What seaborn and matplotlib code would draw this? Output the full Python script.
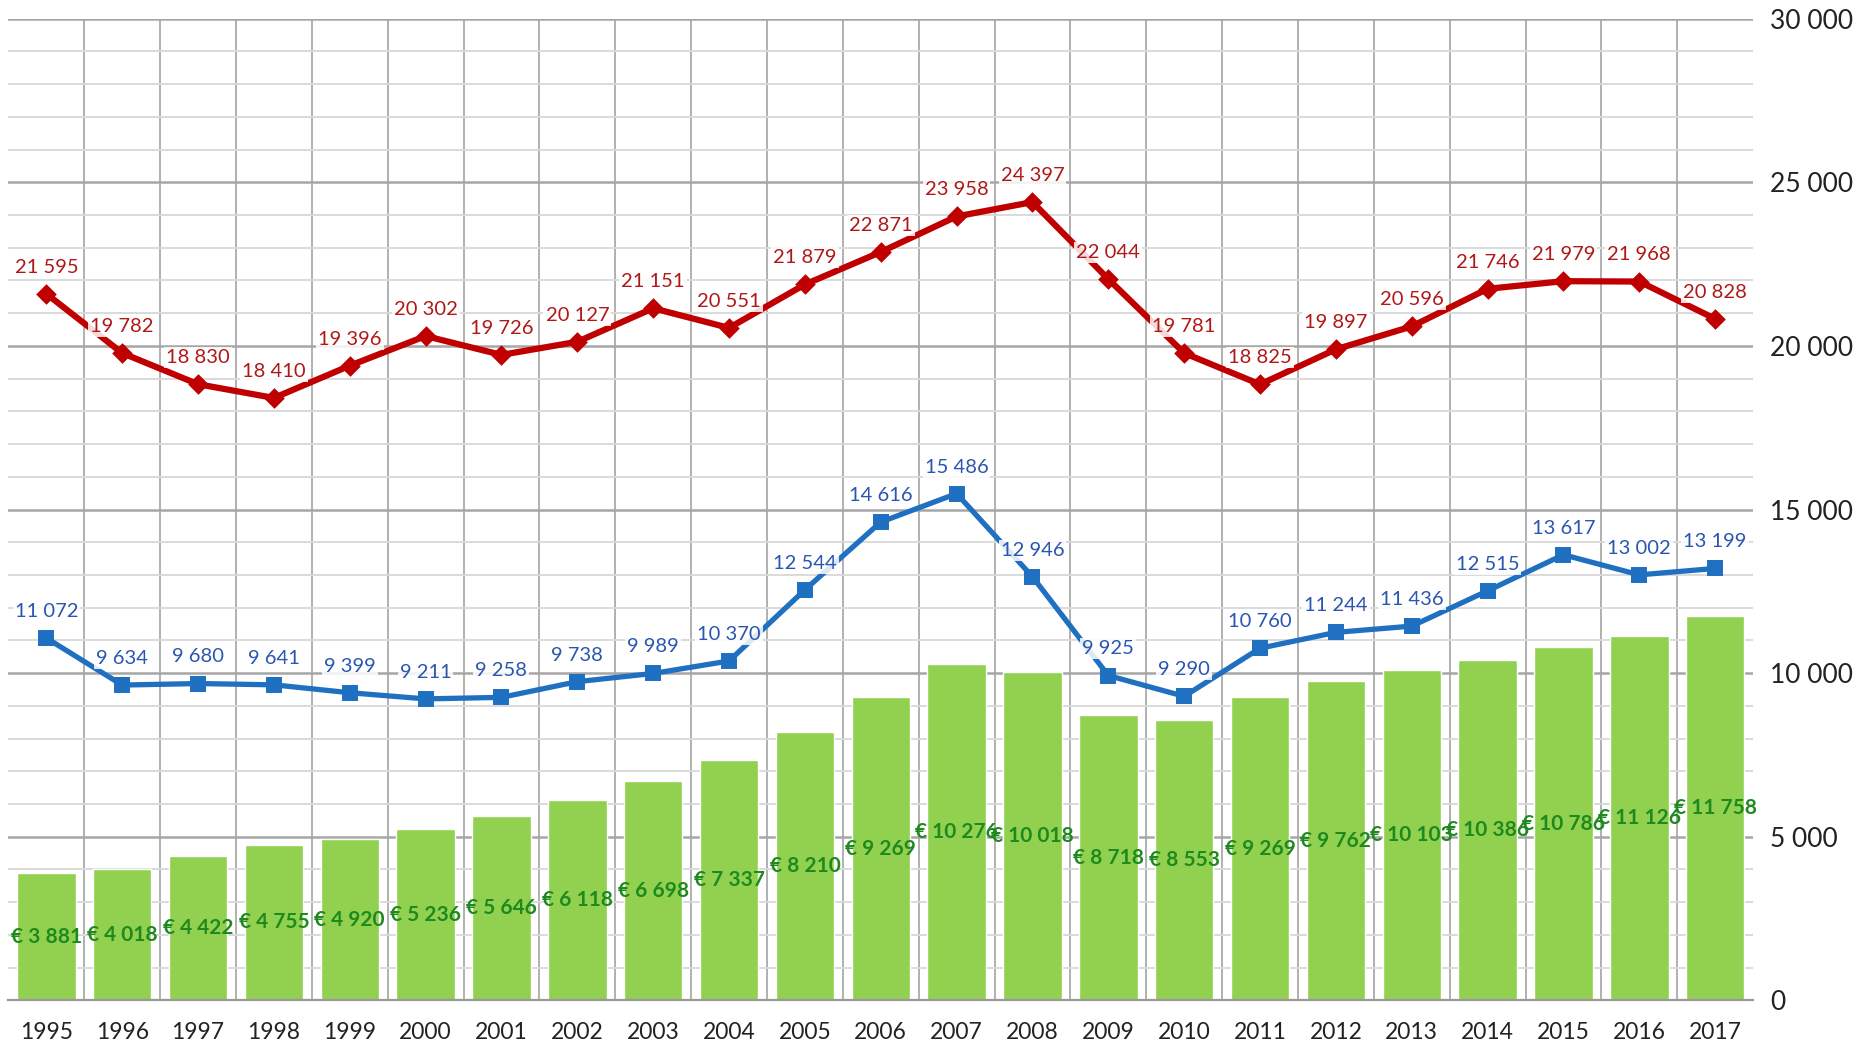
import pandas as pd
import matplotlib.pyplot as plt
import matplotlib.ticker as mticker
import seaborn as sns

# data
years = [str(y) for y in range(1995, 2018)]
euro = [3881, 4018, 4422, 4755, 4920, 5236, 5646, 6118, 6698, 7337, 8210, 9269,
        10276, 10018, 8718, 8553, 9269, 9762, 10103, 10386, 10786, 11126, 11758]
red_vals = [21595, 19782, 18830, 18410, 19396, 20302, 19726, 20127, 21151, 20551,
            21879, 22871, 23958, 24397, 22044, 19781, 18825, 19897, 20596, 21746,
            21979, 21968, 20828]
blue_vals = [11072, 9634, 9680, 9641, 9399, 9211, 9258, 9738, 9989, 10370, 12544,
             14616, 15486, 12946, 9925, 9290, 10760, 11244, 11436, 12515, 13617,
             13002, 13199]

df = pd.DataFrame({'year': years, 'euro': euro, 'red': red_vals, 'blue': blue_vals})

def fmt(v):
    return f"{v:,.0f}".replace(",", " ")

sns.set_style("white")
plt.rcParams['font.family'] = ['Lato', 'DejaVu Sans']

fig = plt.figure(figsize=(18.64, 10.43), dpi=100)
ax = fig.add_axes([0.0045, 0.041, 0.936, 0.941])

# grid
ax.set_ylim(0, 30000)
ax.yaxis.set_major_locator(mticker.MultipleLocator(5000))
ax.yaxis.set_minor_locator(mticker.MultipleLocator(1000))
ax.grid(which='major', axis='y', color='#A6A6A6', lw=1.8, zorder=0)
ax.grid(which='minor', axis='y', color='#DADADA', lw=1.4, zorder=0)
ax.set_xticks([i + 0.5 for i in range(0, len(years) - 1)], minor=True)
ax.grid(which='minor', axis='x', color='#B0B0B0', lw=1.4, zorder=0)
ax.set_axisbelow(True)

sns.barplot(data=df, x='year', y='euro', color='#92D050', width=0.77,
            saturation=1, ax=ax, zorder=2)
ax.bar_label(ax.containers[0], labels=[f"€ {fmt(v)}" for v in euro],
             label_type='center', color='#1E8A1E', fontsize=15,
             fontweight='bold', zorder=5)

sns.pointplot(data=df, x='year', y='red', color='#C00000', markers='D',
              markersize=7, linewidth=4.5, ax=ax, zorder=3)
sns.pointplot(data=df, x='year', y='blue', color='#1F70C1', markers='s',
              markersize=8, linewidth=3.8, ax=ax, zorder=3)

for i, v in enumerate(red_vals):
    ax.annotate(fmt(v), (i, v), xytext=(0, 13), textcoords='offset points',
                ha='center', va='bottom', fontsize=14.5, color='#B01818', zorder=6,
                bbox=dict(boxstyle='square,pad=0.1', fc='white', ec='none', alpha=0.85))
for i, v in enumerate(blue_vals):
    ax.annotate(fmt(v), (i, v), xytext=(0, 13), textcoords='offset points',
                ha='center', va='bottom', fontsize=14.5, color='#2A56B0', zorder=6,
                bbox=dict(boxstyle='square,pad=0.1', fc='white', ec='none', alpha=0.85))

ax.set_xlim(-0.5, len(years) - 0.5)
ax.yaxis.tick_right()
ax.yaxis.set_major_formatter(mticker.FuncFormatter(lambda v, p: fmt(v)))
ax.tick_params(axis='y', which='both', length=0, labelsize=19, pad=12,
               labelcolor='#222222')
ax.tick_params(axis='x', which='major', length=0, labelsize=16.5, pad=16,
               labelcolor='#222222')
ax.tick_params(axis='x', which='minor', length=6, color='#999999', width=1.4)
ax.set_xlabel('')
ax.set_ylabel('')
for s in ['top', 'left', 'right']:
    ax.spines[s].set_visible(False)
ax.spines['bottom'].set_color('#999999')
ax.spines['bottom'].set_linewidth(1.6)

plt.savefig('out.png', dpi=100)
